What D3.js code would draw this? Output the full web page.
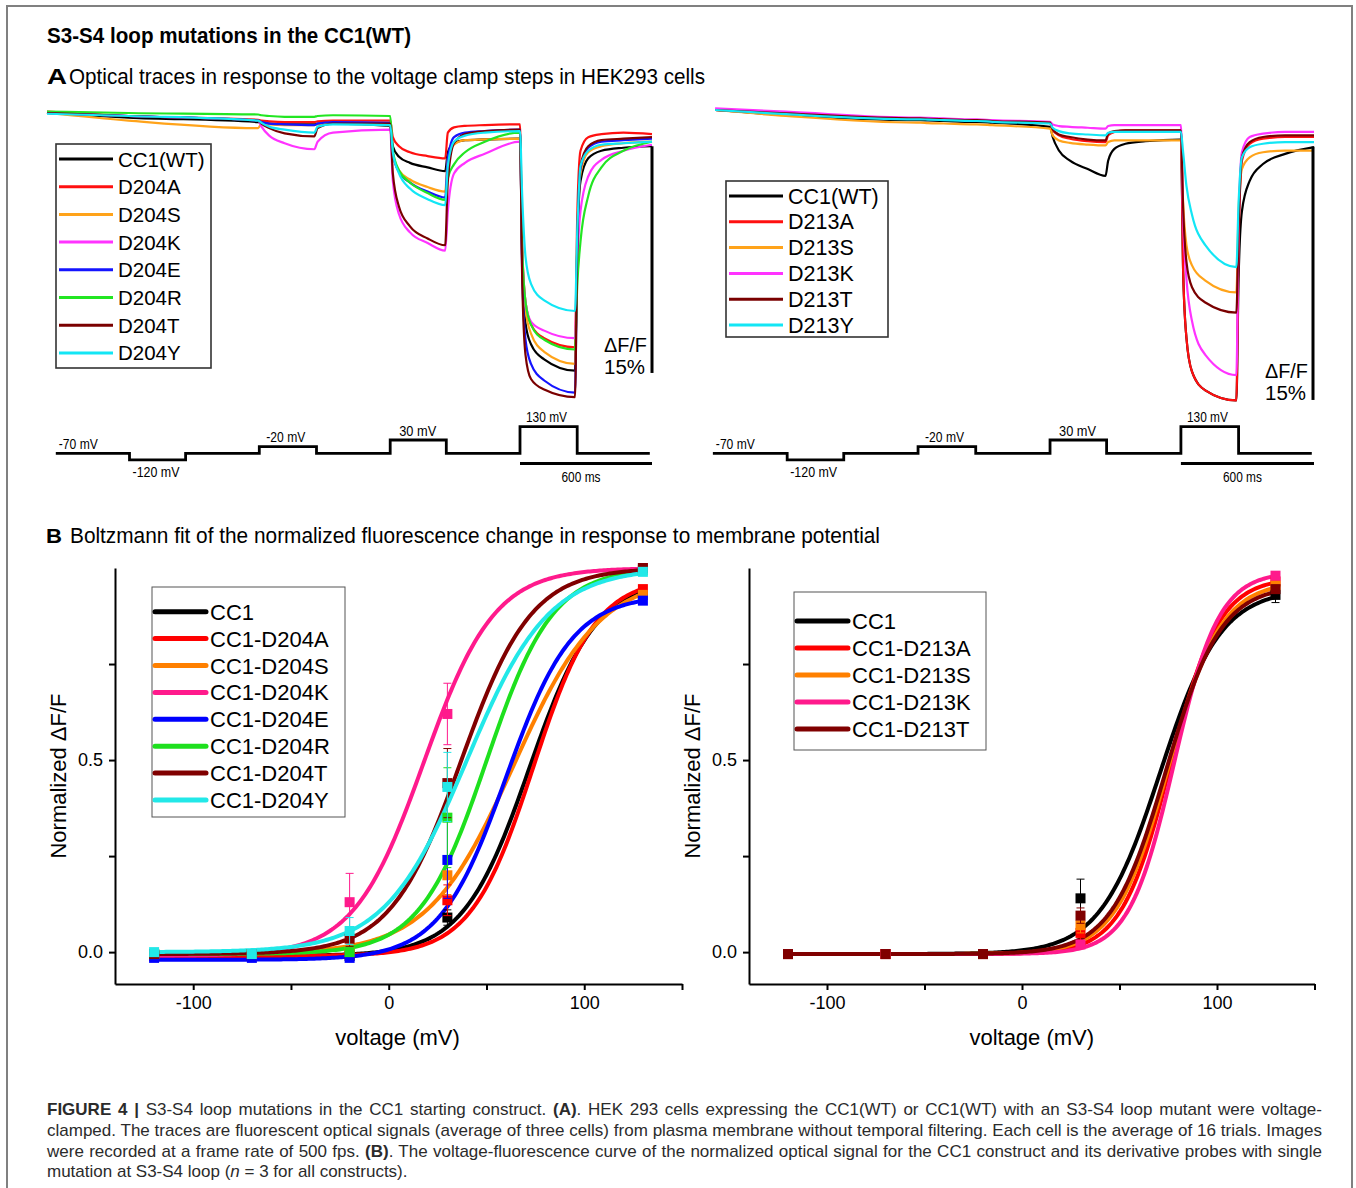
<!DOCTYPE html>
<html>
<head>
<meta charset="utf-8">
<title>S3-S4 loop mutations in the CC1(WT)</title>
<script src="https://cdn.jsdelivr.net/npm/d3@7"></script>
<style>
  body { margin: 0; background: #fff; }
  #fig { position: absolute; left: 0; top: 0; }
  #caption { position: absolute; left: 47px; top: 1100px; width: 1275px;
    font-family: "Liberation Sans", Arial, sans-serif; font-size: 17px; line-height: 20.8px; color: #2b2b2b; }
  #caption div { white-space: nowrap; }
  #caption span.ln { display: inline-block; }
</style>
</head>
<body>
<svg id="fig" width="1356" height="1188"></svg>
<div id="caption">
  <div class="j"><span class="ln"><b>FIGURE 4 |</b> S3-S4 loop mutations in the CC1 starting construct. <b>(A)</b>. HEK 293 cells expressing the CC1(WT) or CC1(WT) with an S3-S4 loop mutant were voltage-</span></div>
  <div class="j"><span class="ln">clamped. The traces are fluorescent optical signals (average of three cells) from plasma membrane without temporal filtering. Each cell is the average of 16 trials. Images</span></div>
  <div class="j"><span class="ln">were recorded at a frame rate of 500 fps. <b>(B)</b>. The voltage-fluorescence curve of the normalized optical signal for the CC1 construct and its derivative probes with single</span></div>
  <div><span class="ln">mutation at S3-S4 loop (<i>n</i> = 3 for all constructs).</span></div>
</div>
<script>
// ---------- A: optical traces (time in ms, dF/F in %) ----------
var traceTime = [0, 370, 960, 975, 1010, 1080, 1215, 1230, 1300, 1560, 1572, 1600, 1650, 1730, 1810,
                 1822, 1850, 1900, 1990, 2150, 2160, 2175, 2200, 2260, 2400, 2410, 2425, 2460, 2520, 2620, 2750];

var namesA1 = ['CC1(WT)', 'D204A', 'D204S', 'D204K', 'D204E', 'D204R', 'D204T', 'D204Y'];
var colorsA1 = ['#000000', '#ff1010', '#ffa31a', '#ff33ff', '#1414ff', '#22e622', '#7a0000', '#12e6f5'];
var tracesA1 = [
  [0,-0.3,-0.6, -0.65,-0.7,-0.75,-0.75, -0.7,-0.7,-0.85, -2.2,-2.9,-3.3,-3.6,-3.85, -2.6,-2.0,-1.8,-1.75,-1.7, -10.0,-13.9,-15.3,-16.3,-17.05, -9,-4.5,-3.0,-2.5,-2.3,-2.2],
  [0.1,-0.2,-0.45, -0.5,-0.55,-0.6,-0.6, -0.55,-0.5,-0.5, -1.6,-2.2,-2.6,-2.85,-3.0, -1.3,-0.95,-0.85,-0.8,-0.75, -8.8,-12.5,-14.0,-14.9,-15.5, -7,-2.5,-1.6,-1.4,-1.3,-1.4],
  [0,-0.5,-1.0, -0.7,-0.75,-0.8,-0.8, -0.75,-0.7,-0.8, -2.8,-3.8,-4.4,-4.9,-5.2, -3.0,-2.1,-1.8,-1.75,-1.7, -9.5,-13.0,-14.6,-15.8,-16.6, -8.5,-4.0,-2.6,-2.2,-2.0,-1.9],
  [0,-0.2,-0.5, -0.9,-1.5,-2.0,-2.4, -1.9,-1.3,-1.1, -4.5,-6.7,-7.9,-8.6,-9.1, -6.5,-4.0,-3.3,-2.7,-1.9, -9.0,-12.5,-13.8,-14.4,-14.9, -10,-6.5,-4.2,-3.1,-2.5,-2.1],
  [0,-0.2,-0.5, -0.6,-0.7,-0.75,-0.8, -0.7,-0.6,-0.65, -2.7,-3.9,-4.6,-5.2,-5.6, -3.0,-1.6,-1.3,-1.2,-1.1, -10.5,-15.0,-16.6,-17.7,-18.5, -9,-3.7,-2.3,-1.9,-1.8,-1.7],
  [0.1,0.0,-0.1, -0.15,-0.2,-0.25,-0.25, -0.2,-0.15,-0.2, -2.5,-3.8,-4.6,-5.3,-5.75, -4.3,-3.4,-2.6,-1.9,-1.3, -9.0,-12.5,-14.0,-15.0,-15.65, -11.5,-8.5,-5.5,-3.6,-2.5,-1.9],
  [0,-0.2,-0.5, -0.7,-1.0,-1.35,-1.55, -1.0,-0.7,-0.7, -4.0,-6.2,-7.5,-8.3,-8.75, -4.5,-2.0,-1.4,-1.2,-1.1, -11.0,-16.0,-17.6,-18.3,-18.8, -9,-3.5,-2.2,-1.8,-1.7,-1.6],
  [-0.05,-0.2,-0.5, -0.65,-0.9,-1.1,-1.3, -0.9,-0.75,-0.8, -2.6,-4.0,-5.0,-5.7,-6.1, -3.5,-1.9,-1.5,-1.3,-1.2, -5.5,-9.5,-11.3,-12.4,-13.1, -8,-3.5,-2.5,-2.1,-2.0,-1.9]
];

var namesA2 = ['CC1(WT)', 'D213A', 'D213S', 'D213K', 'D213T', 'D213Y'];
var colorsA2 = ['#000000', '#ff1010', '#ffa31a', '#ff33ff', '#7a0000', '#12e6f5'];
var tracesA2 = [
  [0,-0.3,-0.6, -0.6,-0.62,-0.65,-0.7, -0.7,-0.75,-1.0, -1.6,-2.4,-3.0,-3.5,-3.9, -3.0,-2.3,-2.0,-1.85,-1.75, -9.5,-13.5,-15.5,-16.6,-17.2, -10,-6,-4.2,-3.2,-2.6,-2.2],
  [0,-0.25,-0.5, -0.5,-0.52,-0.55,-0.6, -0.6,-0.65,-0.75, -1.2,-1.5,-1.7,-1.85,-1.9, -1.5,-1.3,-1.2,-1.2,-1.2, -9.5,-13.5,-15.5,-16.6,-17.2, -8,-3,-2.0,-1.7,-1.6,-1.6],
  [0,-0.35,-0.75, -0.75,-0.78,-0.8,-0.85, -0.85,-0.9,-1.1, -1.5,-1.8,-1.95,-2.05,-2.1, -1.9,-1.8,-1.8,-1.8,-1.8, -5.5,-8.0,-9.2,-10.1,-10.8, -6,-3.5,-2.8,-2.5,-2.4,-2.4],
  [0.1,-0.1,-0.45, -0.45,-0.47,-0.5,-0.55, -0.55,-0.6,-0.7, -0.85,-0.95,-1.0,-1.05,-1.1, -0.95,-0.9,-0.9,-0.9,-0.9, -6.5,-10,-12.5,-14.5,-15.7, -7,-2.5,-1.6,-1.4,-1.3,-1.3],
  [0,-0.2,-0.5, -0.5,-0.52,-0.55,-0.6, -0.6,-0.65,-0.75, -1.15,-1.45,-1.6,-1.75,-1.8, -1.4,-1.25,-1.2,-1.2,-1.2, -5.8,-9.0,-10.5,-11.4,-12.0, -7,-2.8,-1.9,-1.6,-1.5,-1.5],
  [0,-0.25,-0.55, -0.55,-0.57,-0.6,-0.65, -0.65,-0.7,-0.8, -1.05,-1.25,-1.38,-1.45,-1.5, -1.35,-1.3,-1.3,-1.3,-1.3, -2.5,-4.5,-6.2,-8.0,-9.3, -5.5,-2.8,-2.2,-2.0,-1.9,-1.9]
];

// voltage protocol
var protoTime = [40, 375, 630, 965, 1225, 1560, 1815, 2150, 2410, 2740];
var protoVolt = [-70, -120, -70, -20, -70, 30, -70, 130, -70, -70];
var protoLabels = [[0, '-70 mV'], [1, '-120 mV'], [3, '-20 mV'], [5, '30 mV'], [7, '130 mV']];
var scaleBarMs = 600;
var scaleBarPct = 15;

// ---------- B: Boltzmann fits ----------
var voltsB = [-120, -70, -20, 30, 130];

var namesB1 = ['CC1', 'CC1-D204A', 'CC1-D204S', 'CC1-D204K', 'CC1-D204E', 'CC1-D204R', 'CC1-D204T', 'CC1-D204Y'];
var colorsB1 = ['#000000', '#ff0000', '#ff8000', '#ff1a8c', '#0000ff', '#1ee01e', '#800000', '#22e8e8'];
var meanB1 = [
  [-0.01, -0.01, -0.01, 0.09, 0.93],
  [-0.01, -0.01, -0.005, 0.135, 0.945],
  [-0.005, -0.005, 0.0, 0.20, 0.93],
  [-0.005, -0.005, 0.13, 0.62, 1.0],
  [-0.015, -0.015, -0.015, 0.24, 0.915],
  [-0.005, -0.005, 0.0, 0.35, 0.995],
  [-0.005, -0.005, 0.035, 0.44, 1.0],
  [0.0, -0.005, 0.055, 0.43, 0.99]
];
var errB1 = [
  [0.004, 0.004, 0.004, 0.02, 0.01],
  [0.004, 0.004, 0.004, 0.04, 0.01],
  [0.004, 0.004, 0.004, 0.05, 0.01],
  [0.004, 0.004, 0.075, 0.08, 0.005],
  [0.004, 0.004, 0.004, 0.10, 0.01],
  [0.004, 0.004, 0.004, 0.13, 0.005],
  [0.004, 0.004, 0.02, 0.09, 0.005],
  [0.004, 0.004, 0.035, 0.09, 0.005]
];
var v50B1 = [72, 74, 64, 18, 60, 50, 37, 40];
var slopeB1 = [17, 16, 22, 18, 17, 17, 18, 21];
var bottomB1 = [-0.01, -0.01, -0.005, -0.01, -0.02, -0.005, -0.005, 0.0];
var topB1 = [0.97, 0.975, 0.98, 1.0, 0.93, 1.0, 1.0, 1.0];

var namesB2 = ['CC1', 'CC1-D213A', 'CC1-D213S', 'CC1-D213K', 'CC1-D213T'];
var colorsB2 = ['#000000', '#ff0000', '#ff8000', '#ff1a8c', '#800000'];
var meanB2 = [
  [-0.005, -0.005, -0.005, 0.14, 0.93],
  [-0.005, -0.005, -0.005, 0.05, 0.965],
  [-0.005, -0.005, -0.005, 0.07, 0.955],
  [-0.005, -0.005, -0.005, 0.02, 0.98],
  [-0.005, -0.005, -0.005, 0.095, 0.945]
];
var errB2 = [
  [0.003, 0.003, 0.003, 0.05, 0.02],
  [0.003, 0.003, 0.003, 0.02, 0.01],
  [0.003, 0.003, 0.003, 0.02, 0.01],
  [0.003, 0.003, 0.003, 0.01, 0.01],
  [0.003, 0.003, 0.003, 0.02, 0.01]
];
var v50B2 = [71, 76, 75, 78, 74];
var slopeB2 = [15.5, 12.5, 13.5, 11.5, 14];
var bottomB2 = [-0.005, -0.005, -0.005, -0.005, -0.005];
var topB2 = [0.945, 0.975, 0.965, 0.99, 0.955];

// ---------- drawing ----------
var SANS = '"Liberation Sans", Arial, sans-serif';
var NARROW = '"Liberation Sans Narrow", "Arial Narrow", "Liberation Sans", Arial, sans-serif';

var svg = d3.select('#fig');

svg.append('rect')
  .attr('x', 7).attr('y', 6).attr('width', 1345).attr('height', 1230)
  .attr('fill', 'none').attr('stroke', '#808080').attr('stroke-width', 2);

function txt(g, s, x, y, o) {
  o = o || {};
  var t = g.append('text').attr('x', x).attr('y', y).text(s)
    .attr('font-family', o.family || SANS)
    .attr('font-size', o.size || 16)
    .attr('font-weight', o.weight || 'normal')
    .attr('fill', o.fill || '#000');
  if (o.anchor) t.attr('text-anchor', o.anchor);
  if (o.len) t.attr('textLength', o.len).attr('lengthAdjust', 'spacingAndGlyphs');
  return t;
}

// headings (condensed look via textLength)
txt(svg, 'S3-S4 loop mutations in the CC1(WT)', 47, 42.5, {family: NARROW, size: 21.5, weight: 'bold', len: 364});
txt(svg, 'A', 47, 83.5, {size: 22, weight: 'bold', len: 20});
txt(svg, 'Optical traces in response to the voltage clamp steps in HEK293 cells', 69, 83.5, {family: NARROW, size: 22.5, len: 636});
txt(svg, 'B', 46, 543, {size: 21, weight: 'bold', len: 16});
txt(svg, 'Boltzmann fit of the normalized fluorescence change in response to membrane potential', 70, 543, {family: NARROW, size: 22, len: 810});

function tracePanel(p) {
  var g = svg.append('g');
  var x = d3.scaleLinear().domain([0, 2750]).range(p.xRange);
  var y = d3.scaleLinear().domain([0, -scaleBarPct]).range([p.y0, p.y0 + p.barPx]);
  var line = d3.line().x(function(d) { return x(d[0]); }).y(function(d) { return y(d[1]); })
    .curve(d3.curveMonotoneX);

  p.traces.forEach(function(vals, i) {
    var pts = traceTime.map(function(t, j) { return [Math.max(t, p.tStart), vals[j]]; });
    g.append('path').datum(pts).attr('d', line)
      .attr('fill', 'none').attr('stroke', p.colors[i])
      .attr('stroke-width', 2.2).attr('stroke-linejoin', 'round');
  });

  // dF/F scale bar
  g.append('line').attr('x1', p.barX).attr('x2', p.barX)
    .attr('y1', y(p.barTop)).attr('y2', y(p.barTop - scaleBarPct))
    .attr('stroke', '#000').attr('stroke-width', 3);
  txt(g, '\u0394F/F', p.barX - 48, p.dfY, {size: 20, len: 43});
  txt(g, scaleBarPct + '%', p.barX - 48, p.dfY + 21.5, {size: 20, len: 41});

  // legend
  var L = p.legend;
  g.append('rect').attr('x', L.x).attr('y', L.y).attr('width', L.w).attr('height', L.h)
    .attr('fill', '#fff').attr('stroke', '#333').attr('stroke-width', 1.6);
  p.names.forEach(function(n, i) {
    var cy = L.row0 + i * L.step;
    g.append('line').attr('x1', L.x + 3).attr('x2', L.x + 57).attr('y1', cy).attr('y2', cy)
      .attr('stroke', p.colors[i]).attr('stroke-width', 3);
    txt(g, n, L.x + 62, cy + 7.5, {size: L.font});
  });

  // voltage protocol
  var py = d3.scaleLinear().domain([-70, 130]).range([453.3, 426.7]);
  var step = d3.line().x(function(d) { return x(d[0]); }).y(function(d) { return py(d[1]); })
    .curve(d3.curveStepAfter);
  g.append('path').datum(protoTime.map(function(t, i) { return [t, protoVolt[i]]; }))
    .attr('d', step).attr('fill', 'none').attr('stroke', '#000').attr('stroke-width', 2.8);
  var lblW = [39, 47, 39, 37, 41];
  var lblDx = [3, 3, 7, 9, 6];
  protoLabels.forEach(function(l, k) {
    var v = protoVolt[l[0]];
    var yy = v < -70 ? py(v) + 17 : py(v) - 4.5;
    txt(g, l[1], x(protoTime[l[0]]) + lblDx[k], yy, {family: NARROW, size: 15.5, len: lblW[k]});
  });
  var t0 = protoTime[7];
  g.append('line').attr('x1', x(t0)).attr('x2', x(t0 + scaleBarMs)).attr('y1', 463.5).attr('y2', 463.5)
    .attr('stroke', '#000').attr('stroke-width', 2.8);
  txt(g, scaleBarMs + ' ms', (x(t0) + x(t0 + scaleBarMs)) / 2 - 5, 481.5, {family: NARROW, size: 15.5, len: 39, anchor: 'middle'});
}

tracePanel({
  xRange: [47, 652], tStart: 0, y0: 113, barPx: 226.7, barTop: -2.2, barX: 652, dfY: 352,
  traces: tracesA1, colors: colorsA1, names: namesA1,
  legend: {x: 56, y: 144, w: 155, h: 224, row0: 159, step: 27.7, font: 20.5}
});
tracePanel({
  xRange: [704, 1314], tStart: 50, y0: 110, barPx: 253.3, barTop: -2.17, barX: 1313, dfY: 378,
  traces: tracesA2, colors: colorsA2, names: namesA2,
  legend: {x: 726, y: 181, w: 162, h: 156, row0: 196, step: 25.8, font: 21.5}
});

function fitPanel(p) {
  var g = svg.append('g');
  var x = d3.scaleLinear().domain([-140, 150]).range([p.left, p.right]);
  var y = d3.scaleLinear().domain([-0.083, 1.0]).range([p.bottom, p.top]);

  var xa = g.append('g').attr('transform', 'translate(0,' + p.bottom + ')')
    .call(d3.axisBottom(x).tickValues([-100, -50, 0, 50, 100, 150]).tickSize(6).tickSizeOuter(0).tickPadding(6)
      .tickFormat(function(d) { return (d === -100 || d === 0 || d === 100) ? d : ''; }));
  var ya = g.append('g').attr('transform', 'translate(' + p.left + ',0)')
    .call(d3.axisLeft(y).tickValues([0, 0.25, 0.5, 0.75]).tickSize(6).tickSizeOuter(0).tickPadding(6)
      .tickFormat(function(d) { return d === 0 ? '0.0' : (d === 0.5 ? '0.5' : ''); }));
  [xa, ya].forEach(function(a) {
    a.selectAll('path, line').attr('stroke', '#000').attr('stroke-width', 2);
    a.selectAll('text').attr('font-family', SANS).attr('font-size', 18).attr('fill', '#000');
  });

  txt(g, 'voltage (mV)', (p.left + p.right) / 2 + p.xtDx, p.bottom + 61, {size: 22, anchor: 'middle'});
  g.append('text').attr('transform', 'translate(' + (p.left - 57) + ',776) rotate(-90)')
    .attr('text-anchor', 'middle').attr('dy', '0.36em')
    .attr('font-family', SANS).attr('font-size', 22).text('Normalized \u0394F/F');

  var line = d3.line().x(function(d) { return x(d[0]); }).y(function(d) { return y(d[1]); });
  var vs = d3.range(-120, 130.5, 1);
  p.names.forEach(function(n, i) {
    var pts = vs.map(function(v) {
      return [v, p.top2[i] + (p.bottom2[i] - p.top2[i]) / (1 + Math.exp((v - p.v50[i]) / p.slope[i]))];
    });
    g.append('path').datum(pts).attr('d', line).attr('fill', 'none')
      .attr('stroke', p.colors[i]).attr('stroke-width', 4).attr('stroke-linecap', 'round');
  });
  p.names.forEach(function(n, i) {
    voltsB.forEach(function(v, j) {
      var m = p.mean[i][j], e = p.err[i][j], cx = x(v);
      g.append('line').attr('x1', cx).attr('x2', cx).attr('y1', y(m - e)).attr('y2', y(m + e))
        .attr('stroke', p.colors[i]).attr('stroke-width', 1);
      [m - e, m + e].forEach(function(q) {
        g.append('line').attr('x1', cx - 4).attr('x2', cx + 4).attr('y1', y(q)).attr('y2', y(q))
          .attr('stroke', p.colors[i]).attr('stroke-width', 1);
      });
      g.append('rect').attr('x', cx - 5).attr('y', y(m) - 5).attr('width', 10).attr('height', 10)
        .attr('fill', p.colors[i]);
    });
  });

  var L = p.legend;
  g.append('rect').attr('x', L.x).attr('y', L.y).attr('width', L.w).attr('height', L.h)
    .attr('fill', '#fff').attr('stroke', '#555').attr('stroke-width', 1);
  p.names.forEach(function(n, i) {
    var cy = L.row0 + i * L.step;
    g.append('line').attr('x1', L.x + 3).attr('x2', L.x + 54).attr('y1', cy).attr('y2', cy)
      .attr('stroke', p.colors[i]).attr('stroke-width', 5).attr('stroke-linecap', 'round');
    txt(g, n, L.x + 58, cy + 8, {size: 22});
  });
}

fitPanel({
  left: 115, right: 682, top: 568, bottom: 984, xtDx: -1,
  names: namesB1, colors: colorsB1, mean: meanB1, err: errB1,
  v50: v50B1, slope: slopeB1, bottom2: bottomB1, top2: topB1,
  legend: {x: 152, y: 587, w: 193, h: 230, row0: 611.7, step: 26.9}
});
fitPanel({
  left: 749, right: 1314.5, top: 568, bottom: 984, xtDx: 0,
  names: namesB2, colors: colorsB2, mean: meanB2, err: errB2,
  v50: v50B2, slope: slopeB2, bottom2: bottomB2, top2: topB2,
  legend: {x: 794, y: 592, w: 192, h: 158, row0: 621, step: 27}
});

// justify the first three caption lines to the full width via word spacing
var capW = 1275;
d3.selectAll('#caption div.j span.ln').each(function() {
  var el = this;
  var w = el.getBoundingClientRect().width;
  var gaps = (el.textContent.match(/ /g) || []).length;
  if (gaps > 0) el.style.wordSpacing = ((capW - w) / gaps) + 'px';
});
</script>
</body>
</html>
